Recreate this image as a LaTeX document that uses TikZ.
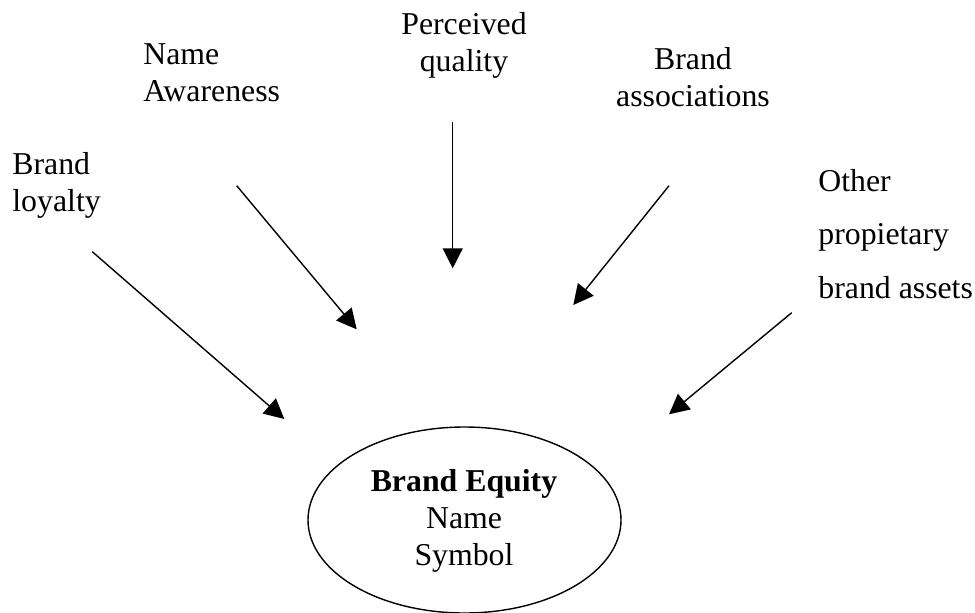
\documentclass[tikz,border=0pt]{standalone}
\usepackage{fontspec}
\setmainfont{Liberation Serif}
\usetikzlibrary{arrows.meta,shapes.geometric}
\begin{document}
\begin{tikzpicture}[x=0.5pt,y=-0.5pt,
  lbl/.style={inner sep=0pt,font=\fontsize{15.9}{18.5}\selectfont},
  wide/.style={inner sep=0pt,font=\fontsize{15.9}{26.7}\selectfont},
  feed/.style={line width=0.7pt,-{Triangle[length=10pt,width=10pt]}}]
\useasboundingbox (0,0) rectangle (975,612);
% source labels (positioned by the baseline of their last line)
\node[lbl,anchor=base west,align=left] (loyal) at (12,211) {Brand\\loyalty};
\node[lbl,anchor=base west,align=left] (aware) at (143,101.7) {Name\\Awareness};
\node[lbl,anchor=base,align=center] (qual) at (464,71.7) {Perceived\\quality};
\node[lbl,anchor=base,align=center] (assoc) at (693,106) {Brand\\associations};
\node[wide,anchor=base west,align=left] (other) at (818,298.3) {Other\\propietary\\brand assets};
% central ellipse
\node[draw,ellipse,line width=0.7pt,minimum width=313pt*0.5,minimum height=186pt*0.5,
      inner sep=0pt] (eq) at (464.5,520) {};
\node[lbl,anchor=base,align=center] (eqtxt) at (464,565)
  {\textbf{Brand Equity}\\Name\\Symbol};
% arrow end points
\coordinate (s1) at (92.3,251.7);  \coordinate (t1) at (284.3,419);
\coordinate (s2) at (236.7,185.7); \coordinate (t2) at (356.7,329.3);
\coordinate (s3) at (452.7,122.3); \coordinate (t3) at (452.7,268.3);
\coordinate (s4) at (669,185.7);   \coordinate (t4) at (573.3,305);
\coordinate (s5) at (791.7,312.7); \coordinate (t5) at (669,414.3);
\draw[feed] (s1) -- (t1);
\draw[feed] (s2) -- (t2);
\draw[feed] (s3) -- (t3);
\draw[feed] (s4) -- (t4);
\draw[feed] (s5) -- (t5);
\end{tikzpicture}
\end{document}
